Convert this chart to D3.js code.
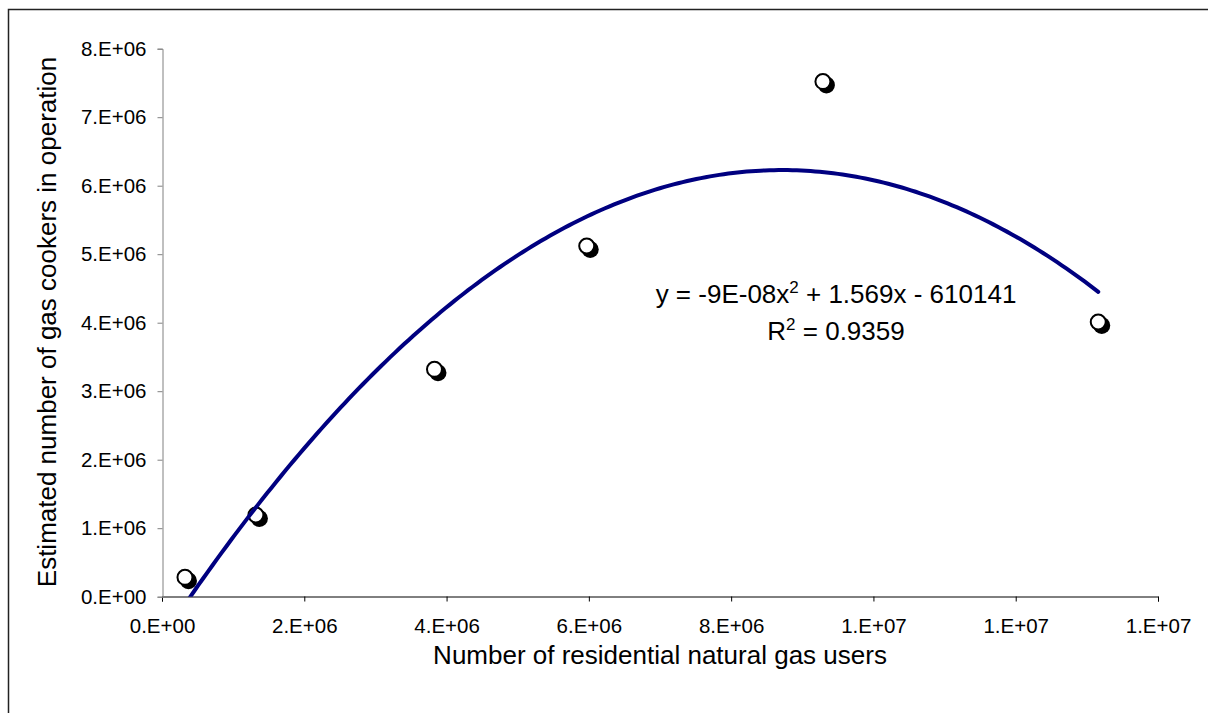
<!DOCTYPE html>
<html>
<head>
<meta charset="utf-8">
<script src="https://cdn.jsdelivr.net/npm/d3@7"></script>
<style>
body { margin: 0; background: #fff; }
text { font-family: "Liberation Sans", Arial, sans-serif; fill: #000; }
</style>
</head>
<body>
<svg></svg>
<script>
// data
var usersX = [323000, 1320000, 3830000, 5970000, 9290000, 13160000];
var cookersY = [283000, 1193000, 3320000, 5120000, 7520000, 4010000];
// trendline coefficients (a x^2 + b x + c), as printed on the chart
var trendCoef = [-9e-8, 1.569, -610141];
var xTicks = [0, 2e6, 4e6, 6e6, 8e6, 10e6, 12e6, 14e6];
var xTickLabels = ["0.E+00", "2.E+06", "4.E+06", "6.E+06", "8.E+06", "1.E+07", "1.E+07", "1.E+07"];
var yTicks = [0, 1e6, 2e6, 3e6, 4e6, 5e6, 6e6, 7e6, 8e6];
var yTickLabels = ["0.E+00", "1.E+06", "2.E+06", "3.E+06", "4.E+06", "5.E+06", "6.E+06", "7.E+06", "8.E+06"];

var svg = d3.select('svg')
  .attr('width', 1208)
  .attr('height', 713);

// outer chart border (runs past the window on right/bottom)
svg.append('rect')
  .attr('x', 8.5).attr('y', 9.5)
  .attr('width', 1300).attr('height', 800)
  .attr('fill', 'none')
  .attr('stroke', '#222')
  .attr('stroke-width', 1.5);

var xScale = d3.scaleLinear().domain([0, 14e6]).range([162, 1158]);
var yScale = d3.scaleLinear().domain([0, 8e6]).range([596.7, 48.7]);

// axes
var xAxis = d3.axisBottom(xScale)
  .tickValues(xTicks)
  .tickSize(5)
  .tickPadding(17)
  .tickFormat(function(d, i) { return xTickLabels[i]; });
var yAxis = d3.axisLeft(yScale)
  .tickValues(yTicks)
  .tickSize(5)
  .tickPadding(11)
  .tickFormat(function(d, i) { return yTickLabels[i]; });

var gx = svg.append('g')
  .attr('transform', 'translate(0,596.5)')
  .call(xAxis);
gx.select('.domain').attr('stroke', '#000');
gx.selectAll('.tick line').attr('stroke', '#000');

var gy = svg.append('g')
  .attr('transform', 'translate(162.5,0)')
  .call(yAxis);
gy.select('.domain').attr('stroke', '#808080');
gy.selectAll('.tick line').attr('stroke', '#808080');

svg.selectAll('.tick text')
  .style('font-family', '"Liberation Sans", Arial, sans-serif')
  .style('font-size', '20.5px')
  .attr('fill', '#000');

// axis titles
svg.append('text')
  .attr('x', 660)
  .attr('y', 664)
  .style('text-anchor', 'middle')
  .style('font-size', '26px')
  .text('Number of residential natural gas users');

svg.append('text')
  .attr('transform', 'translate(56,322) rotate(-90)')
  .style('text-anchor', 'middle')
  .style('font-size', '26px')
  .text('Estimated number of gas cookers in operation');

// markers: black shadow + white circle
var pts = usersX.map(function(x, i) { return { x: x, y: cookersY[i] }; });

svg.selectAll('circle.shadow')
  .data(pts)
  .enter()
  .append('circle')
  .attr('class', 'shadow')
  .attr('cx', function(d) { return xScale(d.x) + 3.5; })
  .attr('cy', function(d) { return yScale(d.y) + 3.5; })
  .attr('r', 8.5)
  .attr('fill', '#000');

svg.selectAll('circle.pt')
  .data(pts)
  .enter()
  .append('circle')
  .attr('class', 'pt')
  .attr('cx', function(d) { return xScale(d.x); })
  .attr('cy', function(d) { return yScale(d.y); })
  .attr('r', 7.5)
  .attr('fill', '#fff')
  .attr('stroke', '#000')
  .attr('stroke-width', 2);

// polynomial trendline, clipped to the plot area
svg.append('clipPath')
  .attr('id', 'plotclip')
  .append('rect')
  .attr('x', 162).attr('y', 48.7)
  .attr('width', 996).attr('height', 548);

var xMin = d3.min(usersX), xMax = d3.max(usersX);
var trendPts = d3.range(0, 201).map(function(i) {
  var x = xMin + (xMax - xMin) * i / 200;
  return [x, trendCoef[0] * x * x + trendCoef[1] * x + trendCoef[2]];
});

var line = d3.line()
  .x(function(d) { return xScale(d[0]); })
  .y(function(d) { return yScale(d[1]); });

svg.append('path')
  .attr('d', line(trendPts))
  .attr('clip-path', 'url(#plotclip)')
  .attr('fill', 'none')
  .attr('stroke', '#000080')
  .attr('stroke-width', 4)
  .attr('stroke-linecap', 'round');

// trendline label (centred block)
var eq = svg.append('text')
  .attr('x', 836)
  .attr('y', 303)
  .style('text-anchor', 'middle')
  .style('font-size', '26px');
eq.append('tspan').text('y = -9E-08x');
eq.append('tspan').attr('dy', -10).style('font-size', '17px').text('2');
eq.append('tspan').attr('dy', 10).text(' + 1.569x - 610141');

var r2 = svg.append('text')
  .attr('x', 836)
  .attr('y', 340)
  .style('text-anchor', 'middle')
  .style('font-size', '26px');
r2.append('tspan').text('R');
r2.append('tspan').attr('dy', -10).style('font-size', '17px').text('2');
r2.append('tspan').attr('dy', 10).text(' = 0.9359');
</script>
</body>
</html>
